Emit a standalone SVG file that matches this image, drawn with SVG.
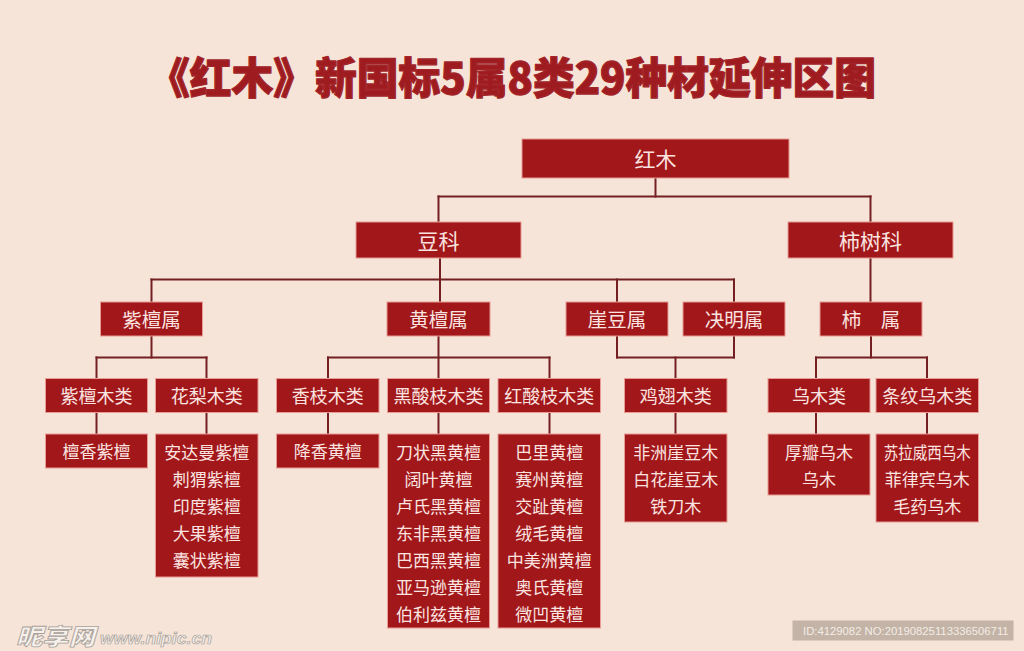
<svg xmlns="http://www.w3.org/2000/svg" width="1024" height="651" viewBox="0 0 1024 651">
<style>
.bg{fill:#f5e4d7}
.box{fill:#a1171a;stroke:#e89c94;stroke-width:1}
.t{font-family:"Noto Sans CJK SC","Noto Sans",sans-serif;fill:#fbe4e0;text-anchor:middle;dominant-baseline:central}
.l1{font-size:21px}
.l2{font-size:21px}
.l3{font-size:19.5px}
.l4{font-size:18px}
.l5{font-size:17px}
.conn line{stroke:#742022;stroke-width:2;stroke-linecap:square}
.title{font-family:"Noto Sans CJK SC","Noto Sans",sans-serif;font-weight:900;font-size:43px;fill:#9e1b1f;stroke:#a3252a;stroke-width:1.3;stroke-linejoin:round;text-anchor:middle;dominant-baseline:central}
</style>
<rect class="bg" x="0" y="0" width="1024" height="651"/>
<text class="title" x="512" y="75" textLength="728" lengthAdjust="spacingAndGlyphs">《红木》新国标5属8类29种材延伸区图</text>

<g id="connectors" class="conn">
  <line x1="655.5" y1="178" x2="655.5" y2="196.5"/>
  <line x1="438.5" y1="196.5" x2="870.5" y2="196.5"/>
  <line x1="438.5" y1="196.5" x2="438.5" y2="222"/>
  <line x1="870.5" y1="196.5" x2="870.5" y2="222"/>
  <line x1="440" y1="258" x2="440" y2="302"/>
  <line x1="151.5" y1="279.5" x2="734" y2="279.5"/>
  <line x1="151.5" y1="279.5" x2="151.5" y2="302"/>
  <line x1="617" y1="279.5" x2="617" y2="302"/>
  <line x1="734" y1="279.5" x2="734" y2="302"/>
  <line x1="870.5" y1="258" x2="870.5" y2="302"/>
  <line x1="151.5" y1="336" x2="151.5" y2="357.5"/>
  <line x1="96.5" y1="357.5" x2="206.5" y2="357.5"/>
  <line x1="96.5" y1="357.5" x2="96.5" y2="378.5"/>
  <line x1="206.5" y1="357.5" x2="206.5" y2="378.5"/>
  <line x1="438.5" y1="336" x2="438.5" y2="378.5"/>
  <line x1="328" y1="357.5" x2="549.5" y2="357.5"/>
  <line x1="328" y1="357.5" x2="328" y2="378.5"/>
  <line x1="549.5" y1="357.5" x2="549.5" y2="378.5"/>
  <line x1="617" y1="336" x2="617" y2="357.5"/>
  <line x1="734" y1="336" x2="734" y2="357.5"/>
  <line x1="617" y1="357.5" x2="734" y2="357.5"/>
  <line x1="675.5" y1="357.5" x2="675.5" y2="378.5"/>
  <line x1="871" y1="336" x2="871" y2="357.5"/>
  <line x1="816" y1="357.5" x2="927" y2="357.5"/>
  <line x1="816" y1="357.5" x2="816" y2="378.5"/>
  <line x1="927" y1="357.5" x2="927" y2="378.5"/>
  <line x1="96.5" y1="412.5" x2="96.5" y2="434"/>
  <line x1="206.5" y1="412.5" x2="206.5" y2="434"/>
  <line x1="328" y1="412.5" x2="328" y2="434"/>
  <line x1="438.5" y1="412.5" x2="438.5" y2="434"/>
  <line x1="549.5" y1="412.5" x2="549.5" y2="434"/>
  <line x1="675.5" y1="412.5" x2="675.5" y2="434"/>
  <line x1="816" y1="412.5" x2="816" y2="434"/>
  <line x1="927" y1="412.5" x2="927" y2="434"/>
</g>

<g id="n-hongmu"><rect class="box" x="522" y="139" width="267" height="39"/><text class="t l1" x="655.5" y="158">红木</text></g>

<g id="n-douke"><rect class="box" x="356" y="222" width="165" height="36"/><text class="t l2" x="438.5" y="239.5">豆科</text></g>
<g id="n-shishuke"><rect class="box" x="788" y="222" width="165" height="36"/><text class="t l2" x="870.5" y="239.5">柿树科</text></g>

<g id="n-zitanshu"><rect class="box" x="100.5" y="302" width="102" height="34"/><text class="t l3" x="151.5" y="318.5">紫檀属</text></g>
<g id="n-huangtanshu"><rect class="box" x="387" y="302" width="103" height="34"/><text class="t l3" x="438.5" y="318.5">黄檀属</text></g>
<g id="n-yadoushu"><rect class="box" x="566" y="302" width="102" height="34"/><text class="t l3" x="617" y="318.5">崖豆属</text></g>
<g id="n-juemingshu"><rect class="box" x="683" y="302" width="102" height="34"/><text class="t l3" x="734" y="318.5">决明属</text></g>
<g id="n-shishu"><rect class="box" x="820" y="302" width="102" height="34"/><text class="t l3" x="871" y="318.5">柿　属</text></g>

<g id="n-zitanmulei"><rect class="box" x="45.5" y="378.5" width="102" height="34"/><text class="t l4" x="96.5" y="395">紫檀木类</text></g>
<g id="n-hualimulei"><rect class="box" x="155.5" y="378.5" width="102.5" height="34"/><text class="t l4" x="206.7" y="395">花梨木类</text></g>
<g id="n-xiangzhimulei"><rect class="box" x="276.5" y="378.5" width="102.5" height="34"/><text class="t l4" x="327.7" y="395">香枝木类</text></g>
<g id="n-heisuanzhi"><rect class="box" x="387.5" y="378.5" width="102" height="34"/><text class="t l4" x="438.5" y="395">黑酸枝木类</text></g>
<g id="n-hongsuanzhi"><rect class="box" x="498" y="378.5" width="102.5" height="34"/><text class="t l4" x="549.3" y="395">红酸枝木类</text></g>
<g id="n-jichimulei"><rect class="box" x="624.5" y="378.5" width="102.5" height="34"/><text class="t l4" x="675.7" y="395">鸡翅木类</text></g>
<g id="n-wumulei"><rect class="box" x="768" y="378.5" width="102" height="34"/><text class="t l4" x="819" y="395">乌木类</text></g>
<g id="n-tiaowen"><rect class="box" x="876" y="378.5" width="102.5" height="34"/><text class="t l4" x="927.2" y="395">条纹乌木类</text></g>

<g id="n-list-zitan"><rect class="box" x="45.5" y="434" width="102" height="34"/><text class="t l5" x="96.5" y="450.5">檀香紫檀</text></g>
<g id="n-list-huali"><rect class="box" x="155.5" y="434" width="102.5" height="143"/>
  <text class="t l5" x="206.7" y="451.5">安达曼紫檀</text><text class="t l5" x="206.7" y="478.5">刺猬紫檀</text><text class="t l5" x="206.7" y="505.5">印度紫檀</text><text class="t l5" x="206.7" y="532.5">大果紫檀</text><text class="t l5" x="206.7" y="559.5">囊状紫檀</text></g>
<g id="n-list-xiangzhi"><rect class="box" x="276.5" y="434" width="102.5" height="34"/><text class="t l5" x="327.7" y="450.5">降香黄檀</text></g>
<g id="n-list-heisuanzhi"><rect class="box" x="387.5" y="434" width="102" height="194"/>
  <text class="t l5" x="438.5" y="451.5">刀状黑黄檀</text><text class="t l5" x="438.5" y="478.5">阔叶黄檀</text><text class="t l5" x="438.5" y="505.5">卢氏黑黄檀</text><text class="t l5" x="438.5" y="532.5">东非黑黄檀</text><text class="t l5" x="438.5" y="559.5">巴西黑黄檀</text><text class="t l5" x="438.5" y="586.5">亚马逊黄檀</text><text class="t l5" x="438.5" y="613.5">伯利兹黄檀</text></g>
<g id="n-list-hongsuanzhi"><rect class="box" x="498" y="434" width="102.5" height="194"/>
  <text class="t l5" x="549.3" y="451.5">巴里黄檀</text><text class="t l5" x="549.3" y="478.5">赛州黄檀</text><text class="t l5" x="549.3" y="505.5">交趾黄檀</text><text class="t l5" x="549.3" y="532.5">绒毛黄檀</text><text class="t l5" x="549.3" y="559.5">中美洲黄檀</text><text class="t l5" x="549.3" y="586.5">奥氏黄檀</text><text class="t l5" x="549.3" y="613.5">微凹黄檀</text></g>
<g id="n-list-jichi"><rect class="box" x="624.5" y="434" width="102.5" height="88"/>
  <text class="t l5" x="675.7" y="451.5">非洲崖豆木</text><text class="t l5" x="675.7" y="478.5">白花崖豆木</text><text class="t l5" x="675.7" y="505.5">铁刀木</text></g>
<g id="n-list-wumu"><rect class="box" x="768" y="434" width="102" height="61"/>
  <text class="t l5" x="819" y="451.5">厚瓣乌木</text><text class="t l5" x="819" y="478.5">乌木</text></g>
<g id="n-list-tiaowen"><rect class="box" x="876" y="434" width="102.5" height="88"/>
  <text class="t l5" x="927.2" y="451.5" textLength="87" lengthAdjust="spacingAndGlyphs">苏拉威西乌木</text><text class="t l5" x="927.2" y="478.5">菲律宾乌木</text><text class="t l5" x="927.2" y="505.5">毛药乌木</text></g>

<g id="watermark">
  <text x="16" y="645" font-family="'Noto Sans CJK SC',sans-serif" font-weight="900" font-style="italic" font-size="23" fill="#f6f1ec" stroke="#a9a19a" stroke-width="0.8" textLength="79" lengthAdjust="spacingAndGlyphs">昵享网</text>
  <text x="100" y="644" font-family="'Liberation Sans',sans-serif" font-weight="bold" font-style="italic" font-size="16" fill="#f6f1ec" stroke="#a9a19a" stroke-width="0.7" textLength="112" lengthAdjust="spacingAndGlyphs">www.nipic.cn</text>
  <rect x="792.5" y="620.5" width="221" height="20" fill="#c3b4a7"/>
  <text x="803" y="634.5" font-family="'Liberation Sans',sans-serif" font-size="11.3" fill="#f4ece5">ID:4129082 NO:20190825113336506711</text>
</g>
</svg>
